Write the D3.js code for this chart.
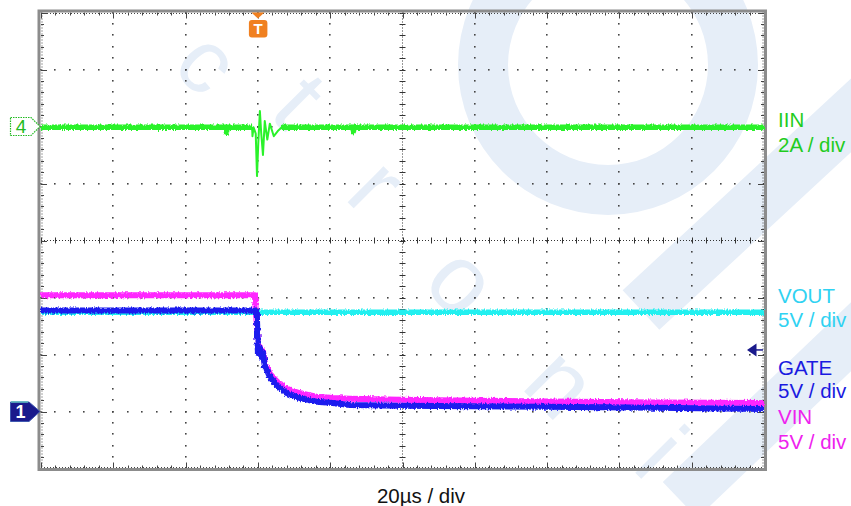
<!DOCTYPE html>
<html><head><meta charset="utf-8">
<script src="https://cdn.jsdelivr.net/npm/d3@7"></script>
<style>
body{margin:0;background:#fff}
svg{display:block}
text{font-family:"Liberation Sans",Arial,Helvetica,sans-serif}
</style>
</head><body>
<svg id="c" width="851" height="506"></svg>
<script>
// ---------------- data (read from the scope shot) ----------------
const timeDomain = [-60, 140];          // µs, trigger at t = 0 (20 µs/div, 10 div)
const ch4Domain  = [-12, 4];            // A  (2 A/div, ch4 ground 2 div below top)
const ch1Domain  = [-5, 35];            // V  (5 V/div, ch1 ground 1 div above bottom)
const triggerLevel = 5.4;               // V on ch1 scale

const iinT = [-60, -40, -25, -8.9, -8.7, -8.5, -1.6, -1.5, -1.2, -0.6, -0.25, 0.1, 0.55, 0.9, 1.4, 1.9, 2.6, 3.3, 4.4, 5.5, 6.6, 26.2, 26.4, 26.6, 60, 100, 140];
const iinA = [-0.03, -0.03, -0.03, -0.03, -0.2, -0.03, -0.03, -0.34, -0.03, -0.25, -1.74, -0.6, 0.54, -0.2, -1.0, 0.19, -0.46, 0.1, -0.34, -0.16, -0.03, -0.03, -0.18, -0.03, -0.03, -0.03, -0.03];

const voutT = [-60, 0, 40, 90, 140];
const voutV = [8.7, 8.7, 8.7, 8.7, 8.7];

const gateT = [-60, -30, -0.3, -0.14, 0, 0.55, 0.97, 1.38, 1.94, 2.5, 3.3, 5.2, 7.9, 11.6, 16.2, 20.7, 25.4, 39.3, 60, 80, 110, 140];
const gateV = [8.85, 8.85, 8.85, 6.7, 5.13, 5.57, 4.78, 5.2, 3.9, 3.64, 3.03, 2.32, 1.62, 1.18, 0.86, 0.75, 0.57, 0.5, 0.45, 0.42, 0.32, 0.22];

const vinT = [-60, -30, -0.8, -0.6, -0.2, 0.1, 0.55, 1.0, 1.4, 2.0, 2.5, 3.3, 5.2, 7.9, 11.6, 16.2, 20.7, 25.4, 39.3, 60, 80, 110, 140];
const vinV = [10.2, 10.2, 10.2, 8.9, 7.2, 5.4, 5.7, 5.0, 5.3, 4.1, 3.85, 3.3, 2.65, 2.0, 1.6, 1.3, 1.18, 1.12, 1.02, 0.95, 0.88, 0.8, 0.75];

const labelNames  = ["IIN", "VOUT", "GATE", "VIN"];
const labelScales = ["2A / div", "5V / div", "5V / div", "5V / div"];
const labelColors = ["#1fcc1f", "#2fd2f2", "#1a1ae0", "#ee22ee"];
const timebaseLabel = "20µs / div";

// ---------------- drawing ----------------
const svg = d3.select("#c");
const X0 = 41, X1 = 764, Y0 = 12.5, Y1 = 468.5;
const x  = d3.scaleLinear().domain(timeDomain).range([X0, X1]);
const y1 = d3.scaleLinear().domain(ch1Domain).range([Y1, Y0]);
const y4 = d3.scaleLinear().domain(ch4Domain).range([Y1, Y0]);

const defs = svg.append("defs");
const f = defs.append("filter").attr("id", "noise").attr("filterUnits", "userSpaceOnUse")
  .attr("x", 0).attr("y", 0).attr("width", 851).attr("height", 506);
f.append("feTurbulence").attr("type", "fractalNoise").attr("baseFrequency", "0.7 0.3")
  .attr("numOctaves", 2).attr("seed", 7).attr("result", "n");
f.append("feDisplacementMap").attr("in", "SourceGraphic").attr("in2", "n")
  .attr("scale", 4).attr("xChannelSelector", "R").attr("yChannelSelector", "G");

// watermark
const wmc = "#e6eef8";
const wm = svg.append("g").attr("fill", wmc);
wm.append("path").attr("transform", "translate(608,65)")
  .attr("d", d3.arc()({innerRadius: 100, outerRadius: 150, startAngle: 0, endAngle: 2 * Math.PI}));
wm.append("line").attr("x1", 900).attr("y1", 70).attr("x2", 641).attr("y2", 310)
  .attr("stroke", wmc).attr("stroke-width", 54);
wm.append("line").attr("x1", 900).attr("y1", 290).attr("x2", 680).attr("y2", 500)
  .attr("stroke", wmc).attr("stroke-width", 50);
[["c", 208, 62, 90], ["t", 300, 100, 96], ["r", 378, 185, 96], ["o", 463, 280, 96], ["n", 562, 382, 96], ["i", 662, 452, 96]]
  .forEach(([ch, cx, cy, fs]) => {
    wm.append("text").attr("transform", `translate(${cx},${cy}) rotate(45)`)
      .attr("text-anchor", "middle").attr("dominant-baseline", "central")
      .attr("font-size", fs).text(ch);
  });

// grid
const g = svg.append("g");
const majX = d3.range(timeDomain[0], timeDomain[1] + 0.01, 20);
const minX = d3.range(timeDomain[0], timeDomain[1] + 0.01, 4);
const majY = d3.range(ch1Domain[0], ch1Domain[1] + 0.01, 5);
const minY = d3.range(ch1Domain[0], ch1Domain[1] + 0.01, 1);
const cX = 40, cY = 15;
const dot = (px, py) => g.append("rect").attr("x", Math.round(px) - 1).attr("y", Math.round(py) - 1)
  .attr("width", 1.6).attr("height", 1.6).attr("fill", "#444");
majX.slice(1, -1).filter(t => t !== cX).forEach(t => minY.forEach(v => dot(x(t), y1(v))));
majY.slice(1, -1).filter(v => v !== cY).forEach(v => minX.forEach(t => dot(x(t), y1(v))));

// center cross
g.append("line").attr("x1", x(cX)).attr("x2", x(cX)).attr("y1", Y0).attr("y2", Y1)
  .attr("stroke", "#333").attr("stroke-width", 1).attr("stroke-dasharray", "1,2");
g.append("line").attr("y1", y1(cY)).attr("y2", y1(cY)).attr("x1", X0).attr("x2", X1)
  .attr("stroke", "#333").attr("stroke-width", 1).attr("stroke-dasharray", "1,2");
minY.forEach(v => g.append("line").attr("x1", x(cX) - 3).attr("x2", x(cX) + 3)
  .attr("y1", Math.round(y1(v)) + 0.5).attr("y2", Math.round(y1(v)) + 0.5).attr("stroke", "#333"));
minX.forEach(t => g.append("line").attr("y1", y1(cY) - 3).attr("y2", y1(cY) + 3)
  .attr("x1", Math.round(x(t)) + 0.5).attr("x2", Math.round(x(t)) + 0.5).attr("stroke", "#333"));

// border ticks + dotted inner edge
[[Y0, 1], [Y1, -1]].forEach(([yy, s]) => {
  g.append("line").attr("x1", X0).attr("x2", X1).attr("y1", yy + s * 1).attr("y2", yy + s * 1)
    .attr("stroke", "#444").attr("stroke-dasharray", "1,2");
  minX.forEach(t => {
    const L = majX.includes(t) ? 6 : 3;
    g.append("line").attr("x1", Math.round(x(t)) + 0.5).attr("x2", Math.round(x(t)) + 0.5)
      .attr("y1", yy).attr("y2", yy + s * L).attr("stroke", "#444");
  });
});
[[X0, 1], [X1, -1]].forEach(([xx, s]) => {
  g.append("line").attr("y1", Y0).attr("y2", Y1).attr("x1", xx + s * 1).attr("x2", xx + s * 1)
    .attr("stroke", "#444").attr("stroke-dasharray", "1,2");
  minY.forEach(v => {
    const L = majY.includes(v) ? 6 : 3;
    g.append("line").attr("y1", Math.round(y1(v)) + 0.5).attr("y2", Math.round(y1(v)) + 0.5)
      .attr("x1", xx).attr("x2", xx + s * L).attr("stroke", "#444");
  });
});
g.append("rect").attr("x", X0 - 2).attr("y", Y0 - 1.5).attr("width", X1 - X0 + 3.5).attr("height", Y1 - Y0 + 2.5)
  .attr("fill", "none").attr("stroke", "#8c8c8c").attr("stroke-width", 3);

// traces
const tr = svg.append("g");
const pts = (T, V) => T.map((t, i) => [t, V[i]]);
const line1 = d3.line().x(d => x(d[0])).y(d => y1(d[1]));
const line4 = d3.line().x(d => x(d[0])).y(d => y4(d[1]));
function trace(path, color, w, noisy) {
  tr.append("path").attr("d", path).attr("fill", "none").attr("stroke", color)
    .attr("stroke-width", w).attr("stroke-linejoin", "round")
    .attr("filter", noisy ? "url(#noise)" : null);
}
const iin = pts(iinT, iinA);
const green = "#2af22a";
trace(line4(iin.filter(d => d[0] >= -2 && d[0] <= 7)), green, 2, false);
trace(line4(iin.filter(d => d[0] <= -1.6)), green, 5.5, true);
trace(line4(iin.filter(d => d[0] >= 6.6)), green, 5.5, true);
trace(line1(pts(voutT, voutV)), "#22f0f0", 5.5, true);
trace(line1(pts(vinT, vinV)), "#ff26ff", 6, true);
trace(line1(pts(gateT, gateV)), "#1c1cee", 6, true);

// channel markers
const m = svg.append("g");
const gy4 = y4(0), gy1 = y1(0);
m.append("path").attr("d", `M10.5,${gy4 - 9}H31L40,${gy4}L31,${gy4 + 9}H10.5Z`)
  .attr("fill", "#fff").attr("stroke", "#22bb22").attr("stroke-width", 1.2).attr("stroke-dasharray", "1.5,1");
m.append("text").attr("x", 21).attr("y", gy4 + 6.5).attr("text-anchor", "middle")
  .attr("font-size", 19).attr("fill", "#22bb22").text("4");
m.append("path").attr("d", `M10.5,${gy1 - 9.5}H29L40,${gy1}L29,${gy1 + 10}H10.5Z`)
  .attr("fill", "#1a1a8c").attr("stroke", "#3f58b0").attr("stroke-width", 1);
m.append("line").attr("x1", 11).attr("x2", 28).attr("y1", gy1 - 9.5).attr("y2", gy1 - 9.5)
  .attr("stroke", "#5fbfbf").attr("stroke-width", 1.5);
m.append("text").attr("x", 20.5).attr("y", gy1 + 6.5).attr("text-anchor", "middle")
  .attr("font-size", 18).attr("font-weight", "bold").attr("fill", "#fff").text("1");

// trigger position marker
const tx = x(0);
m.append("path").attr("d", `M${tx - 6.5},${Y0}H${tx + 6.5}L${tx},${Y0 + 6}Z`).attr("fill", "#f08020");
m.append("rect").attr("x", tx - 9).attr("y", 20).attr("width", 18.5).attr("height", 17.5)
  .attr("rx", 3).attr("fill", "#f08020");
m.append("text").attr("x", tx + 0.3).attr("y", 34).attr("text-anchor", "middle")
  .attr("font-size", 15).attr("font-weight", "bold").attr("fill", "#fff").text("T");

// trigger level marker
const ty = y1(triggerLevel);
m.append("path").attr("d", `M747,${ty}L756.5,${ty - 6.5}V${ty + 6.5}Z`).attr("fill", "#1a1a8c");
m.append("line").attr("x1", 755).attr("x2", 763).attr("y1", ty).attr("y2", ty)
  .attr("stroke", "#1a1a8c").attr("stroke-width", 1.5);

// labels
const lb = svg.append("g").attr("font-size", 20.5);
const labelY = [[127.3, 151.7], [302.7, 326.7], [374.5, 398.3], [424, 449]];
labelNames.forEach((n, i) => {
  lb.append("text").attr("x", 778).attr("y", labelY[i][0]).attr("fill", labelColors[i]).text(n);
  lb.append("text").attr("x", 778).attr("y", labelY[i][1]).attr("fill", labelColors[i]).text(labelScales[i]);
});
svg.append("text").attr("x", 421).attr("y", 502.5).attr("text-anchor", "middle")
  .attr("font-size", 20.5).attr("fill", "#111").text(timebaseLabel);
</script>
</body></html>
